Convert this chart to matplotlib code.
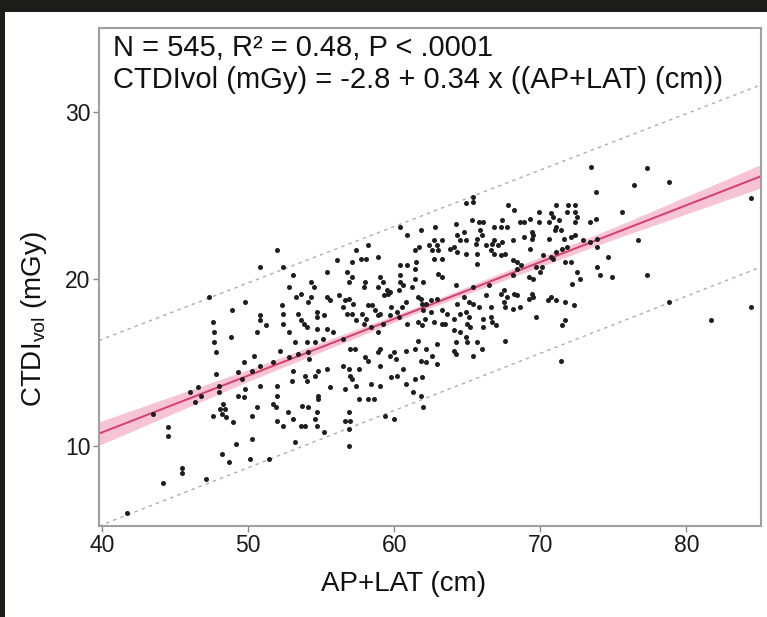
import numpy as np
import matplotlib.pyplot as plt
from matplotlib.patches import Rectangle

plt.rcParams['font.family'] = ['Liberation Sans', 'DejaVu Sans']
plt.rcParams['mathtext.fontset'] = 'custom'
plt.rcParams['mathtext.rm'] = 'Liberation Sans'
plt.rcParams['mathtext.it'] = 'Liberation Sans:italic'

# scatter values, grouped by region (AP+LAT cm, CTDIvol mGy)
x_upper_left = [52.0, 50.8, 52.4, 52.8, 49.8, 48.9, 52.3, 52.4, 52.4, 50.8, 50.8, 51.2, 47.6, 47.7, 47.3, 52.8, 50.6]
y_upper_left = [21.7, 20.7, 20.7, 19.5, 18.6, 18.1, 18.4, 17.9, 17.3, 17.8, 17.5, 17.2, 17.4, 16.8, 18.9, 16.8, 16.8]

x_upper_mid = [60.4, 61.8, 62.8, 60.9, 58.2, 57.4, 56.1, 57.1, 57.7, 58.1,
               58.9, 61.4, 61.7, 62.4, 62.7, 62.9, 63.0, 63.3, 62.6, 61.5,
               60.4, 60.9, 61.4, 62.7, 63.3, 63.0, 63.3, 53.1, 55.4, 56.8,
               57.1, 56.9, 58.0, 57.9, 59.0, 59.2, 58.9, 59.5, 59.7, 59.6,
               59.3, 60.4, 60.4, 60.3, 60.6, 61.4, 61.2, 62.0, 54.3, 54.5,
               53.3, 53.6, 54.3, 54.1, 55.4, 55.6, 56.2, 56.6, 56.9, 57.2,
               56.5, 56.8, 57.1, 57.8, 58.2, 58.5, 58.7, 58.9, 59.0, 58.1,
               57.4, 59.2, 59.7, 59.8, 60.2, 60.5, 60.8, 60.3, 61.6, 61.8,
               61.9, 62.2, 62.5, 62.9, 62.0, 62.5, 63.3, 63.6, 62.1, 62.7,
               63.3, 63.5, 53.4, 54.7, 54.7, 55.2, 53.6, 53.8, 54.0, 54.7,
               55.4, 55.8, 60.9, 61.6, 61.9, 57.9, 58.4, 58.9]
y_upper_mid = [23.1, 22.9, 23.1, 22.6, 22.0, 21.7, 21.1, 21.0, 21.2, 21.2,
               21.3, 21.7, 21.9, 22.0, 22.3, 22.0, 21.7, 22.3, 21.7, 21.0,
               20.8, 20.8, 20.6, 21.2, 21.2, 20.3, 20.1, 20.2, 20.4, 20.4,
               20.1, 19.8, 19.8, 19.5, 20.1, 19.8, 19.5, 19.3, 19.2, 19.1,
               19.0, 20.2, 19.8, 19.3, 19.6, 20.0, 19.5, 19.8, 19.8, 19.5,
               18.9, 19.1, 18.9, 18.6, 18.9, 18.7, 19.0, 18.7, 18.8, 18.5,
               18.3, 17.9, 17.9, 17.9, 18.4, 18.4, 18.1, 17.8, 17.9, 17.6,
               17.5, 17.3, 17.8, 18.3, 18.0, 18.3, 18.6, 17.7, 18.9, 18.8,
               18.5, 18.5, 18.7, 18.8, 18.1, 18.0, 18.1, 17.9, 17.6, 17.4,
               17.3, 17.3, 17.9, 18.0, 17.7, 17.8, 17.5, 17.3, 17.1, 17.0,
               17.0, 16.8, 17.3, 17.4, 17.2, 17.3, 17.1, 16.8]

x_upper_right = [73.5, 73.8, 64.9, 65.4, 65.4, 67.8, 68.2, 69.9, 71.1, 71.9,
                 72.4, 70.7, 70.9, 71.8, 72.4, 72.5, 64.2, 65.3, 65.8, 66.1,
                 67.4, 66.8, 67.3, 67.7, 68.6, 68.9, 69.3, 69.9, 70.6, 71.3,
                 71.1, 71.0, 71.4, 72.4, 73.4, 73.8, 64.3, 64.8, 64.5, 64.9,
                 65.9, 66.0, 65.7, 65.6, 66.8, 66.3, 66.7, 67.1, 67.4, 68.1,
                 68.9, 69.4, 69.5, 69.4, 69.3, 70.6, 71.6, 72.1, 72.4, 72.9,
                 73.4, 73.9, 73.9, 63.8, 64.1, 64.3, 64.9, 65.7, 66.6, 66.8,
                 67.3, 67.6, 68.1, 68.4, 68.7, 68.4, 70.2, 70.7, 70.9, 71.1,
                 71.5, 71.8, 71.7, 72.1, 65.7, 68.1, 69.2, 69.5, 69.7, 70.0,
                 70.1, 72.5, 72.7, 72.2, 73.9, 74.1, 64.2, 65.4, 66.5, 64.8,
                 66.3, 67.3, 67.5, 67.7, 68.2, 68.4, 69.4, 69.5, 69.2, 70.7,
                 71.1, 70.5, 71.7, 72.3, 64.3, 65.1, 65.4, 65.8, 66.6, 67.5,
                 67.6, 68.1, 68.6, 64.5, 64.9, 65.1, 64.1, 66.1, 66.6, 66.7,
                 65.0, 65.2, 66.1, 67.0, 69.7, 71.5, 71.7, 64.1, 64.5, 74.6]
y_upper_right = [26.7, 25.2, 24.5, 24.6, 24.9, 24.4, 24.1, 24.0, 24.4, 24.4,
                 24.4, 23.9, 23.7, 24.0, 24.0, 23.7, 23.3, 23.5, 23.4, 23.4,
                 23.5, 23.1, 23.1, 23.1, 23.4, 23.4, 23.6, 23.4, 23.4, 23.5,
                 23.1, 22.9, 22.9, 23.4, 23.4, 23.6, 22.6, 22.8, 22.3, 22.3,
                 22.9, 22.6, 22.4, 22.1, 22.3, 22.0, 22.1, 22.0, 22.2, 22.3,
                 22.5, 22.8, 22.6, 22.4, 21.8, 22.4, 22.4, 22.5, 22.6, 22.3,
                 22.2, 22.4, 21.9, 21.8, 21.9, 21.6, 21.5, 21.5, 21.7, 21.5,
                 21.4, 21.5, 21.1, 21.0, 20.8, 20.6, 21.4, 21.3, 21.2, 21.6,
                 21.8, 21.9, 21.0, 21.0, 20.9, 20.2, 20.1, 20.0, 20.7, 20.4,
                 20.7, 20.4, 20.0, 19.7, 20.7, 20.2, 19.6, 19.5, 19.6, 18.9,
                 19.0, 19.1, 19.3, 18.9, 19.1, 19.0, 19.1, 18.9, 18.8, 18.9,
                 18.7, 18.7, 18.6, 18.4, 18.5, 18.6, 18.5, 18.3, 18.3, 18.6,
                 18.3, 18.2, 18.3, 17.9, 18.0, 17.7, 17.6, 17.6, 17.7, 17.4,
                 17.3, 17.1, 17.1, 17.2, 17.7, 17.2, 17.5, 16.9, 16.8, 21.3]

x_far_right = [77.3, 76.4, 78.8, 84.4, 75.6, 76.7, 74.9, 77.3, 78.8, 81.7, 84.4]
y_far_right = [26.6, 25.6, 25.8, 24.8, 24.0, 22.3, 20.1, 20.2, 18.6, 17.5, 18.3]

x_lower_left = [47.7, 48.8, 47.8, 50.4, 52.2, 49.7, 51.7, 52.8, 50.8, 50.3,
                49.3, 49.6, 47.8, 50.8, 52.0, 46.6, 46.0, 46.8, 48.0, 48.0,
                46.4, 49.3, 49.7, 49.8, 52.0, 51.7, 51.9, 50.6, 52.7, 48.3,
                48.1, 48.4, 48.2, 48.5, 47.6, 49.0, 50.3, 52.0, 52.4, 43.5,
                44.5, 44.5, 49.2, 50.3, 48.2, 48.7, 50.1, 51.4, 45.5, 45.5,
                44.2, 47.1, 41.7]
y_lower_left = [16.2, 16.5, 15.6, 15.4, 15.7, 15.0, 15.0, 15.3, 14.8, 14.5,
                14.4, 14.0, 14.3, 13.6, 13.6, 13.5, 13.2, 13.0, 13.6, 13.2,
                12.6, 13.0, 12.9, 13.4, 13.0, 12.5, 12.3, 12.3, 12.0, 12.5,
                12.2, 12.2, 11.9, 11.7, 11.8, 11.4, 11.8, 11.5, 11.2, 11.9,
                11.1, 10.6, 10.1, 10.4, 9.5, 9.0, 9.2, 9.2, 8.7, 8.4,
                7.8, 8.0, 6.0]

x_lower_mid = [53.2, 54.0, 54.6, 55.1, 56.5, 57.0, 57.3, 59.0, 58.9, 59.7,
               60.0, 60.1, 60.8, 61.6, 61.4, 62.2, 62.9, 62.9, 61.8, 62.2,
               62.6, 54.2, 54.1, 53.4, 53.1, 53.9, 54.0, 54.6, 54.8, 55.4,
               56.5, 56.9, 57.0, 57.6, 57.1, 57.4, 56.6, 55.6, 58.4, 59.0,
               58.2, 58.0, 59.0, 59.8, 60.2, 60.6, 60.8, 61.4, 61.9, 61.3,
               61.8, 54.8, 54.8, 57.6, 58.2, 58.6, 53.7, 54.1, 54.7, 56.9,
               56.6, 57.0, 56.9, 53.6, 53.9, 54.6, 54.7, 55.2, 53.2, 56.9,
               59.4, 60.0, 62.0, 53.0, 53.1]
y_lower_mid = [16.2, 16.2, 16.2, 16.4, 16.4, 15.8, 15.8, 15.8, 15.6, 15.4,
               15.6, 15.2, 15.7, 16.3, 15.8, 15.8, 16.1, 14.9, 15.1, 15.0,
               15.4, 15.2, 15.6, 15.5, 14.5, 14.2, 13.9, 14.2, 14.5, 14.6,
               14.8, 14.6, 14.2, 14.6, 14.0, 13.6, 13.4, 13.5, 13.7, 13.6,
               15.1, 15.3, 14.8, 14.1, 14.2, 14.6, 13.7, 14.0, 14.1, 13.2,
               13.0, 13.0, 12.8, 12.8, 12.8, 12.8, 12.4, 12.3, 12.0, 12.0,
               11.5, 11.5, 11.0, 11.2, 11.2, 11.6, 11.2, 10.8, 10.2, 10.0,
               11.8, 11.6, 12.3, 13.9, 11.6]

x_lower_right = [64.2, 65.0, 65.7, 64.9, 64.1, 64.2, 65.4, 66.0, 67.6, 71.4]
y_lower_right = [16.2, 16.2, 16.2, 16.5, 15.7, 15.5, 15.4, 15.8, 16.3, 15.1]

# fit line, its confidence band and the prediction limits
fit_x = [39.8, 85.1]
fit_y = [10.73, 26.13]
band_x = [39.8, 50, 62, 75, 85.1]
band_lo = [10.03, 13.85, 18.1, 22.35, 25.43]
band_hi = [11.43, 14.55, 18.46, 23.05, 26.83]
pred_x = [39.8, 85.1]
pred_hi = [16.3, 31.6]
pred_lo = [5.2, 20.7]

xs = np.concatenate([x_upper_left, x_upper_mid, x_upper_right, x_far_right,
                     x_lower_left, x_lower_mid, x_lower_right])
ys = np.concatenate([y_upper_left, y_upper_mid, y_upper_right, y_far_right,
                     y_lower_left, y_lower_mid, y_lower_right])

fig = plt.figure(figsize=(7.67, 6.17), dpi=100, facecolor='white')
# dark screenshot border on top and left
fig.patches.append(Rectangle((0, 1 - 12 / 617), 1, 12 / 617, transform=fig.transFigure,
                             facecolor='#1c1c1a', edgecolor='none', zorder=-5))
fig.patches.append(Rectangle((0, 0), 5 / 767, 1, transform=fig.transFigure,
                             facecolor='#1c1c1a', edgecolor='none', zorder=-5))
ax = fig.add_axes([99 / 767, 1 - 526 / 617, (761 - 99) / 767, (526 - 28) / 617])

ax.fill_between(band_x, band_lo, band_hi, color='#f5b0c6', alpha=0.75, lw=0, zorder=1)
ax.plot(fit_x, fit_y, color='#d63e6c', lw=1.4, zorder=2)
ax.plot(pred_x, pred_hi, color='#adadad', lw=1, ls=(0, (2.5, 3)), zorder=2)
ax.plot(pred_x, pred_lo, color='#adadad', lw=1, ls=(0, (2.5, 3)), zorder=2)
ax.scatter(xs, ys, s=13, c='#1e1e1e', linewidths=0, zorder=3)

ax.set_xlim(39.8, 85.1)
ax.set_ylim(5.2, 35)
ax.set_xticks([40, 50, 60, 70, 80])
ax.set_yticks([10, 20, 30])
for sp in ax.spines.values():
    sp.set_color('#a0a0a0')
    sp.set_linewidth(1.5)
ax.tick_params(direction='out', length=4, width=1, color='#888888',
               labelsize=16.5, labelcolor='#1a1a1a', pad=2)

ax.text(0.021, 0.96, 'N = 545, R² = 0.48, P < .0001', transform=ax.transAxes,
        fontsize=21, va='center', ha='left', color='#111111')
ax.text(0.021, 0.895, 'CTDIvol (mGy) = -2.8 + 0.34 x ((AP+LAT) (cm))', transform=ax.transAxes,
        fontsize=21, va='center', ha='left', color='#111111')

ax.set_xlabel('AP+LAT (cm)', fontsize=20, color='#111111')
ax.xaxis.set_label_coords(0.46, -0.09)
ax.set_ylabel(r'CTDI$_{\mathrm{vol}}$ (mGy)', fontsize=20, color='#111111')
ax.yaxis.set_label_coords(-0.075, 0.415)

fig.savefig('out.png', dpi=100)
